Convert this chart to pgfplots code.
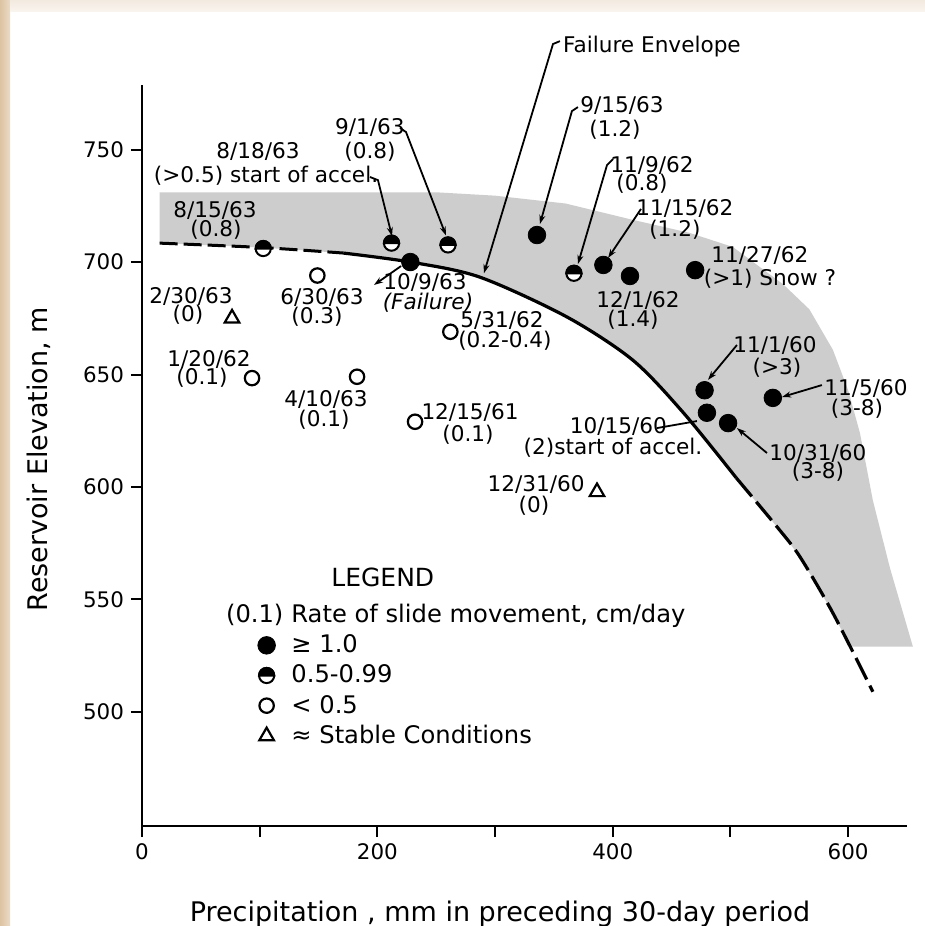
\documentclass[border=0pt]{standalone}
\usepackage{fontspec}
\setmainfont{DejaVu Sans}
\usepackage{pgfplots}
\pgfplotsset{compat=1.18}
\usetikzlibrary{arrows.meta}
\definecolor{bgL}{HTML}{DCC3A2}
\definecolor{bgT}{HTML}{F3EADF}
\definecolor{shade}{HTML}{CDCDCD}

\pgfdeclareplotmark{halftop}{%
  \pgfpathcircle{\pgfpointorigin}{\pgfplotmarksize}%
  \pgfsetfillcolor{white}\pgfusepathqfillstroke
  \pgfpathmoveto{\pgfqpoint{\pgfplotmarksize}{0pt}}%
  \pgfpatharc{0}{180}{\pgfplotmarksize}%
  \pgfpathclose
  \pgfsetfillcolor{black}\pgfusepathqfillstroke
}
\pgfplotsset{markleg/.style={legend image code/.code={\draw[##1] plot coordinates {(0bp,0bp)};}}}
\newcommand\lab{\fontsize{10.8bp}{12bp}\selectfont}

\begin{document}
\begin{tikzpicture}
\fill[white] (0,0) rectangle (462.5bp,463bp);
\shade[left color=bgL, right color=bgL!60!white] (0,0) rectangle (5bp,463bp);
\shade[top color=bgT, bottom color=bgT!50!white] (5bp,457bp) rectangle (462.5bp,463bp);
\begin{axis}[
  at={(71bp,50bp)}, anchor=south west,
  scale only axis, width=382.5bp, height=370.5bp,
  xmin=0, xmax=650, ymin=449.3, ymax=778.7,
  axis x line*=bottom, axis y line*=left,
  axis line style={line width=1.4bp, black},
  xtick={0,100,...,600}, xticklabels={0,,200,,400,,600},
  ytick={500,550,...,750},
  tick align=outside, major tick length=5.5bp,
  tick style={line width=1bp, black},
  ticklabel style={font=\fontsize{10.7bp}{12bp}\selectfont},
  /pgf/number format/assume math mode=true,
  xlabel={Precipitation , mm in preceding 30-day period},
  ylabel={Reservoir Elevation, m},
  label style={font=\fontsize{13.5bp}{15bp}\selectfont},
  xlabel style={at={(axis description cs:0.468,0)}, anchor=center, yshift=-44bp},
  ylabel style={at={(axis description cs:0,0.495)}, anchor=center, rotate=0, yshift=51.5bp},
  clip=false,
  legend style={at={(axis cs:93,549.8)}, anchor=north west, draw=none, fill=none,
    font=\fontsize{12.1bp}{13bp}\selectfont, row sep=4.6bp, column sep=8bp,
    nodes={inner sep=0pt}},
  legend cell align=left,
]
% shaded zone
\addplot[draw=none, fill=shade, forget plot] coordinates {
(15,708.4)(15,731)(250,731)(300,729.5)(360,726)(415,719)(465,713)(502,706.7)
(545,690)(567,679)(587,661)(600,643)(610,624)(621,594)(635.5,564)(650,538)(655,529)
(601.6,529)
(587,544)(559,569)(540,582)(505,604)(460,633)(417,656.4)(361,675.6)
(287,693.3)(228,700)(171,704)(100,706.5)(15,708.4)};
% failure envelope
\addplot[black, line width=1.5bp, smooth, dash pattern=on 9bp off 3bp, forget plot]
  coordinates {(15,708.4)(100,706.5)(171,704)};
\addplot[black, line width=1.6bp, smooth, forget plot]
  coordinates {(171,704)(228,700)(287,693.3)(361,675.6)(417,656.4)(460,633)(505,604)};
\addplot[black, line width=1.6bp, smooth, dash pattern=on 12bp off 3.5bp, forget plot]
  coordinates {(505,604)(540,582)(559,569)(587,544)(621,509)};

% leaders
\begin{scope}[line width=0.9bp, >={Stealth[length=4.5bp,width=3bp]}]
\draw[->] (axis cs:193.7,737.8) -- (axis cs:200.5,736.4) -- (axis cs:212.4,711.5);
\draw[->] (axis cs:219.2,759.6) -- (axis cs:224.3,757.8) -- (axis cs:258.3,711.8);
\draw[->] (axis cs:355.1,798.2) -- (axis cs:349.2,796.9) -- (axis cs:290.5,695.0);
\draw[->] (axis cs:370.4,768.9) -- (axis cs:365.3,767.1) -- (axis cs:338.1,716.9);
\draw[->] (axis cs:400.2,745.8) -- (axis cs:395.1,743.1) -- (axis cs:370.4,699.1);
\draw[->] (axis cs:424,723.6) -- (axis cs:396,701.8);
\draw[<-] (axis cs:197.1,689.8) -- (axis cs:220.1,698.2);
\draw[->] (axis cs:505.5,663.1) -- (axis cs:480.9,647.6);
\draw (axis cs:437.6,626.2) -- (axis cs:471.5,629.3);
\draw[->] (axis cs:531,615.1) -- (axis cs:505.5,626.2);
\draw[->] (axis cs:577.7,645.3) -- (axis cs:543.8,640);
\end{scope}

\addlegendimage{empty legend}
\addlegendentry{\llap{(0.1)\hspace{4bp}}Rate of slide movement, cm/day}

\addplot[only marks, mark=*, mark size=4.4bp, black, markleg]
  coordinates {(228,700)(335.6,712)(392,698.7)(414.6,693.8)(470,696.4)
  (478,643)(480,633)(498,628.4)(536,639.6)};
\addlegendentry{≥ 1.0}
\addplot[only marks, mark=halftop, mark size=3.8bp, black, line width=1bp, markleg]
  coordinates {(103,706)(212,708.4)(260,707.6)(367,695)};
\addlegendentry{0.5-0.99}
\addplot[only marks, mark=o, mark size=3.6bp, black, line width=1.1bp, markleg]
  coordinates {(262,669)(149,694)(93.5,648.4)(182.7,649)(232,629)};
\addlegendentry{< 0.5}
\addplot[only marks, mark=triangle, mark size=4.2bp, black, line width=1.1bp, markleg]
  coordinates {(76.5,675)(386.6,597.8)};
\addlegendentry{≈ Stable Conditions}

% labels
\begin{scope}[every node/.style={font=\lab, inner sep=0pt, anchor=center}]
\node at (axis cs:62,723.1) {8/15/63};
\node at (axis cs:62.9,714.2) {(0.8)};
\node at (axis cs:98.6,749.3) {8/18/63};
\node at (axis cs:105.4,738.2) {(>0.5) start of accel.};
\node at (axis cs:193.7,759.6) {9/1/63};
\node at (axis cs:193.7,748.9) {(0.8)};
\node at (axis cs:407.8,769.8) {9/15/63};
\node at (axis cs:401.9,758.7) {(1.2)};
\node at (axis cs:433.3,795.6) {Failure Envelope};
\node at (axis cs:433.3,743.1) {11/9/62};
\node at (axis cs:424.8,734.7) {(0.8)};
\node at (axis cs:461.3,723.6) {11/15/62};
\node at (axis cs:452.8,714.2) {(1.2)};
\node at (axis cs:525,702.7) {11/27/62};
\node at (axis cs:533.6,692.4) {(>1) Snow ?};
\node at (axis cs:421.4,683.1) {12/1/62};
\node at (axis cs:417.2,674.2) {(1.4)};
\node at (axis cs:305.9,674.2) {5/31/62};
\node at (axis cs:308.4,664.9) {(0.2-0.4)};
\node at (axis cs:240.4,690.7) {10/9/63};
\node at (axis cs:243,681.8) {\itshape (Failure)};
\node at (axis cs:152.9,684.4) {6/30/63};
\node at (axis cs:148.7,675.6) {(0.3)};
\node at (axis cs:41.6,684.9) {2/30/63};
\node at (axis cs:39.1,676.4) {(0)};
\node at (axis cs:56.9,656.9) {1/20/62};
\node at (axis cs:51,648.4) {(0.1)};
\node at (axis cs:156.3,638.7) {4/10/63};
\node at (axis cs:154.6,629.8) {(0.1)};
\node at (axis cs:278.7,633.3) {12/15/61};
\node at (axis cs:277,623.1) {(0.1)};
\node at (axis cs:334.8,600.9) {12/31/60};
\node at (axis cs:333,591.6) {(0)};
\node at (axis cs:537.8,662.7) {11/1/60};
\node at (axis cs:539.5,652.9) {(>3)};
\node at (axis cs:404.8,627.1) {10/15/60};
\node at (axis cs:400.2,617.3) {(2)start of accel.};
\node at (axis cs:574.3,615.1) {10/31/60};
\node at (axis cs:574.3,606.7) {(3-8)};
\node at (axis cs:615.1,644) {11/5/60};
\node at (axis cs:607.5,634.7) {(3-8)};
\node[font=\fontsize{12.5bp}{14bp}\selectfont] at (axis cs:204.6,560) {LEGEND};
\end{scope}
\end{axis}
\pgfresetboundingbox
\path[use as bounding box] (0,0) rectangle (462.5bp,463bp);
\end{tikzpicture}
\end{document}
